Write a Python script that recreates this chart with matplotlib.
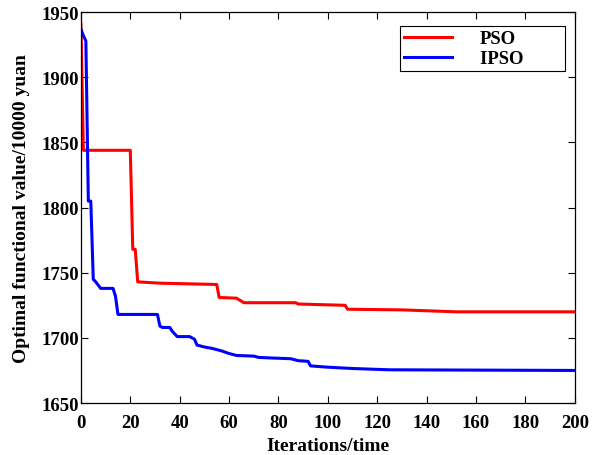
import matplotlib.pyplot as plt

plt.rcParams['font.family'] = 'Liberation Serif'
plt.rcParams['font.weight'] = 'bold'

# best value found so far
pso_it = [0, 1, 20, 21, 22, 23, 32, 55, 56, 63, 66, 87, 88, 107, 108,
          130, 152, 200]
pso_val = [1941, 1844, 1844, 1768, 1768, 1743, 1742, 1741, 1731, 1730.5,
           1727, 1727, 1726, 1725, 1722, 1721.5, 1720, 1720]

ipso_it = [0, 1, 2, 3, 4, 5, 6, 8, 13, 14, 15, 31, 32, 33, 36, 37, 38, 39,
           44, 45, 46, 47, 50, 53, 57, 60, 63, 70, 72, 78, 85, 88, 92, 93,
           100, 110, 125, 200]
ipso_val = [1937, 1932, 1928, 1805, 1805, 1745, 1743, 1738, 1738, 1732,
            1718, 1718, 1709, 1708, 1708, 1705, 1703, 1701, 1701, 1700,
            1699, 1694.5, 1693, 1692, 1690, 1688, 1686.5, 1686, 1685,
            1684.5, 1684, 1682.5, 1682, 1678.5, 1677.5, 1676.5, 1675.5, 1675]

x_ticks = list(range(0, 201, 20))
y_ticks = list(range(1650, 1951, 50))

fig = plt.figure(figsize=(5.95, 4.56), dpi=100)
ax = fig.add_axes([0.136, 0.114, 0.83, 0.857])

ax.plot(pso_it, pso_val, color='#ff0000', lw=2.2, label='PSO')
# trailing spaces keep the wide right margin of the original legend box
ax.plot(ipso_it, ipso_val, color='#0000ff', lw=2.2,
        label='IPSO' + '\u00a0' * 8)

ax.set_xlim(0, 200)
ax.set_ylim(1650, 1950)
ax.set_xticks(x_ticks)
ax.set_yticks(y_ticks)
ax.tick_params(direction='in', top=True, right=True, length=5,
               labelsize=13.5, width=0.8)
ax.tick_params(axis='x', pad=8)
ax.tick_params(axis='y', pad=1.5)
for lab in ax.get_xticklabels() + ax.get_yticklabels():
    lab.set_fontweight('bold')
for sp in ax.spines.values():
    sp.set_linewidth(0.9)

ax.set_xlabel('Iterations/time', fontsize=14, fontweight='bold', labelpad=4)
ax.set_ylabel('Optimal functional value/10000 yuan', fontsize=14,
              fontweight='bold', labelpad=8)

leg = ax.legend(loc='upper right', fontsize=13.5, fancybox=False,
                edgecolor='black', framealpha=1, handlelength=2.56,
                handletextpad=1.5, borderpad=0.2, labelspacing=0.15,
                borderaxespad=0, bbox_to_anchor=(0.98, 0.964))
leg.get_frame().set_linewidth(0.8)
for t in leg.get_texts():
    t.set_fontweight('bold')

fig.savefig('out.png', dpi=100)
